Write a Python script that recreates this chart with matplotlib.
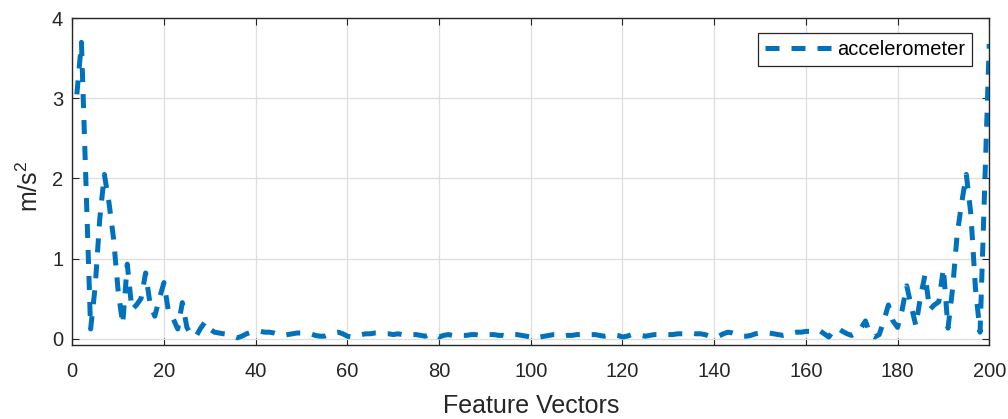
import matplotlib
matplotlib.use("Agg")
import matplotlib.pyplot as plt
import numpy as np

plt.rcParams['font.family'] = ['Liberation Sans', 'DejaVu Sans']
plt.rcParams['mathtext.default'] = 'regular'

# Magnitude per feature-vector index (1..200)
feature_index = list(range(1, 201))
accel_magnitude = [
    3.05, 3.70, 1.90, 0.12, 0.65, 1.50, 2.05, 1.70, 1.25, 0.60,
    0.18, 0.93, 0.36, 0.42, 0.50, 0.82, 0.42, 0.28, 0.50, 0.70,
    0.33, 0.25, 0.12, 0.45, 0.14, 0.04, 0.03, 0.13, 0.21, 0.12,
    0.08, 0.07, 0.06, 0.05, 0.03, 0.01, 0.03, 0.06, 0.08, 0.09,
    0.09, 0.08, 0.08, 0.07, 0.05, 0.04, 0.05, 0.06, 0.07, 0.07,
    0.07, 0.06, 0.04, 0.03, 0.03, 0.05, 0.07, 0.08, 0.06, 0.03,
    0.02, 0.03, 0.05, 0.06, 0.06, 0.07, 0.07, 0.06, 0.06, 0.05,
    0.06, 0.05, 0.04, 0.05, 0.05, 0.04, 0.03, 0.05, 0.05, 0.02,
    0.04, 0.05, 0.04, 0.05, 0.04, 0.04, 0.05, 0.05, 0.04, 0.05,
    0.05, 0.05, 0.04, 0.04, 0.03, 0.05, 0.05, 0.04, 0.03, 0.02,
    0.04, 0.02, 0.03, 0.04, 0.05, 0.05, 0.03, 0.04, 0.04, 0.05,
    0.05, 0.04, 0.05, 0.05, 0.04, 0.03, 0.04, 0.05, 0.04, 0.02,
    0.03, 0.05, 0.05, 0.04, 0.03, 0.04, 0.05, 0.05, 0.04, 0.05,
    0.05, 0.06, 0.06, 0.06, 0.07, 0.06, 0.06, 0.05, 0.03, 0.02,
    0.03, 0.06, 0.08, 0.07, 0.05, 0.03, 0.03, 0.04, 0.06, 0.07,
    0.07, 0.07, 0.06, 0.05, 0.04, 0.05, 0.07, 0.08, 0.08, 0.09,
    0.09, 0.11, 0.10, 0.06, 0.02, 0.10, 0.13, 0.09, 0.06, 0.04,
    0.07, 0.13, 0.22, 0.05, 0.02, 0.05, 0.22, 0.42, 0.22, 0.14,
    0.36, 0.66, 0.40, 0.16, 0.52, 0.80, 0.36, 0.42, 0.46, 0.88,
    0.13, 0.62, 1.30, 1.70, 2.05, 1.55, 0.62, 0.08, 1.88, 3.68,
]

x_ticks = list(range(0, 201, 20))
y_ticks = [0, 1, 2, 3, 4]

axis_color = '#262626'
line_color = '#0072BD'

fig = plt.figure(figsize=(10.08, 4.19), dpi=100)
ax = fig.add_axes([0.0717, 0.1766, 0.9097, 0.7797])

ax.plot(feature_index, accel_magnitude, color=line_color, linewidth=3.6,
        dashes=(2.8, 2.4), label='accelerometer', zorder=3)

ax.set_xlim(0, 200)
ax.set_ylim(-0.08, 4)
ax.set_xticks(x_ticks)
ax.set_yticks(y_ticks)

ax.grid(True, color='#dedede', linewidth=0.9, zorder=0)
ax.set_axisbelow(True)

for sp in ax.spines.values():
    sp.set_color(axis_color)
    sp.set_linewidth(1.0)

ax.tick_params(axis='both', direction='in', length=5, width=0.8,
               colors=axis_color, labelsize=14.5, top=True, right=True)
ax.tick_params(axis='x', pad=12.5)
ax.tick_params(axis='y', pad=6.5)

ax.set_xlabel('Feature Vectors', fontsize=18, color=axis_color)
ax.xaxis.set_label_coords(0.5, -0.150)
ax.set_ylabel('m/s$^2$', fontsize=18, color=axis_color)
ax.yaxis.set_label_coords(-0.032, 0.485)

leg = ax.legend(loc='upper right', bbox_to_anchor=(0.9811, 0.955),
                borderaxespad=0, fontsize=14.5, handlelength=3.33,
                handletextpad=0.25, borderpad=0.35, fancybox=False,
                framealpha=1)
leg.get_frame().set_edgecolor(axis_color)
leg.get_frame().set_linewidth(0.9)

fig.savefig('out.png', dpi=100)
